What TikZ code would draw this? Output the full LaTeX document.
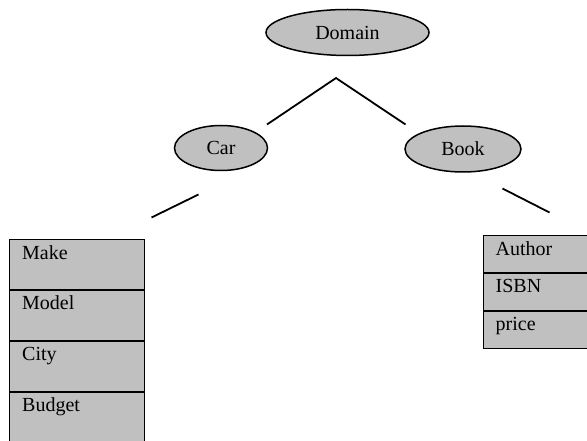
\documentclass[tikz,border=0pt]{standalone}
\usepackage{fontspec}
\setmainfont{Liberation Serif}
\usetikzlibrary{shapes.geometric, positioning}
\definecolor{nodegray}{RGB}{192,192,192}

\begin{document}
\begin{tikzpicture}[x=1pt, y=-1pt,
    concept/.style={ellipse, draw=black, line width=1.5pt, fill=nodegray, inner sep=0pt, font=\fontsize{20}{24}\selectfont},
    field/.style={draw=black, line width=0.9pt, fill=nodegray, minimum width=135pt, minimum height=50pt, inner sep=0pt},
    bookfield/.style={field, minimum width=110pt, minimum height=37pt},
    fieldtext/.style={anchor=north west, inner xsep=13pt, inner ysep=6pt, font=\fontsize{20}{24}\selectfont},
    link/.style={line width=1.8pt}
]
    \useasboundingbox (0,0) rectangle (587,441);

    % Concepts
    \node[concept, minimum width=163pt, minimum height=46pt] (domain) at (347.5, 32.5) {Domain};
    \node[concept, minimum width=93pt, minimum height=45pt] (car) at (221, 148) {Car};
    \node[concept, minimum width=116pt, minimum height=46pt] (book) at (463, 149) {Book};

    % Branch ends
    \coordinate (apex) at (336, 78);
    \coordinate (carTop) at (267, 124.5);
    \coordinate (bookTop) at (405.5, 124.5);
    \coordinate (carLow) at (198.5, 194.5);
    \coordinate (carFieldTop) at (151.5, 217.5);
    \coordinate (bookLow) at (502.5, 188.5);
    \coordinate (bookFieldTop) at (549.5, 212.5);

    % Car fields
    \node[field, anchor=north west] (make) at (9, 239) {};
    \node[field, below=0pt of make] (model) {};
    \node[field, below=0pt of model] (city) {};
    \node[field, below=0pt of city] (budget) {};
    \node[fieldtext] at (make.north west) {Make};
    \node[fieldtext] at (model.north west) {Model};
    \node[fieldtext] at (city.north west) {City};
    \node[fieldtext] at (budget.north west) {Budget};

    % Book fields
    \node[bookfield, anchor=north west] (author) at (482.5, 235) {};
    \node[bookfield, below=0pt of author] (isbn) {};
    \node[bookfield, below=0pt of isbn] (price) {};
    \node[fieldtext] at (author.north west) {Author};
    \node[fieldtext] at (isbn.north west) {ISBN};
    \node[fieldtext] at (price.north west) {price};

    % Connections
    \draw[link] (carTop) -- (apex) -- (bookTop);
    \draw[link] (carLow) -- (carFieldTop);
    \draw[link] (bookLow) -- (bookFieldTop);
\end{tikzpicture}
\end{document}
